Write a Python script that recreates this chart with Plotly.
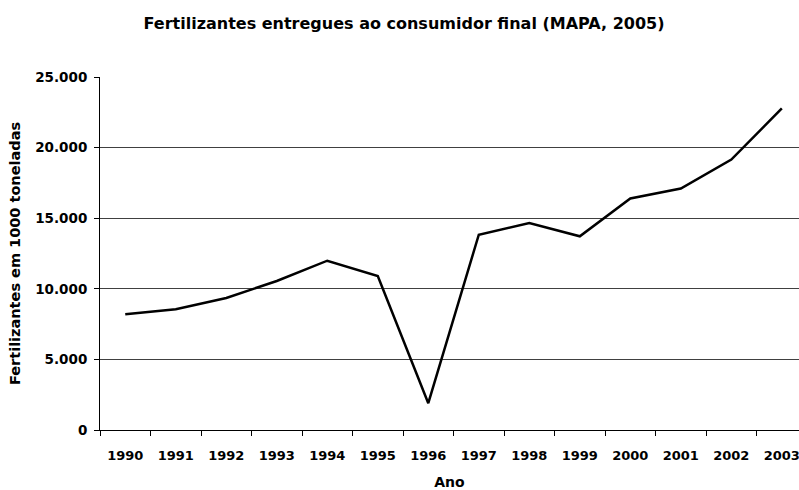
import plotly.graph_objects as go

anos = ["1990", "1991", "1992", "1993", "1994", "1995", "1996",
        "1997", "1998", "1999", "2000", "2001", "2002", "2003"]
fertilizantes = [8200, 8550, 9350, 10550, 11990, 10900, 1900,
                 13830, 14660, 13720, 16400, 17100, 19150, 22780]
y_ticks = [0, 5000, 10000, 15000, 20000, 25000]

FONT = "DejaVu Sans"
W, H = 799, 490

fig = go.Figure(go.Scatter(
    x=anos, y=fertilizantes, mode="lines",
    line=dict(color="black", width=2.5),
    showlegend=False,
))

fig.update_layout(
    width=W, height=H,
    margin=dict(l=100, r=0, t=77, b=60),
    paper_bgcolor="white", plot_bgcolor="white",
    separators=",.",
    font=dict(family=FONT, size=13, color="black"),
    title=dict(
        text="<b>Fertilizantes entregues ao consumidor final (MAPA, 2005)</b>",
        font=dict(family=FONT, size=16, color="black"),
        x=404 / W, xanchor="center", xref="container",
        y=1 - 23 / H, yanchor="middle", yref="container",
    ),
)

fig.update_xaxes(
    type="category",
    range=[-0.5, 13.34],
    tickson="boundaries",
    automargin=False,
    ticks="outside", ticklen=5, tickcolor="black", tickwidth=1,
    showline=True, linecolor="black", linewidth=1,
    showgrid=False,
    tickfont=dict(family=FONT, size=13, color="black", weight="bold"),
    ticklabelstandoff=13,
    title=dict(text="<b>Ano</b>", font=dict(family=FONT, size=14), standoff=16),
)

fig.update_yaxes(
    range=[0, 25000],
    tickvals=y_ticks,
    tickformat=",d",
    automargin=False,
    ticks="outside", ticklen=5, tickcolor="black", tickwidth=1,
    showline=True, linecolor="black", linewidth=1,
    showgrid=True, gridcolor="#404040", gridwidth=1,
    zeroline=False,
    tickfont=dict(family=FONT, size=13.5, color="black", weight="bold"),
    ticklabelstandoff=4,
    title=dict(text="<b>Fertilizantes em 1000 toneladas</b>",
               font=dict(family=FONT, size=14.5), standoff=11),
)

fig.write_html(
    "out.html",
    config={"displayModeBar": False},
    post_script="document.body.style.margin='0';document.body.style.overflow='hidden';",
)
